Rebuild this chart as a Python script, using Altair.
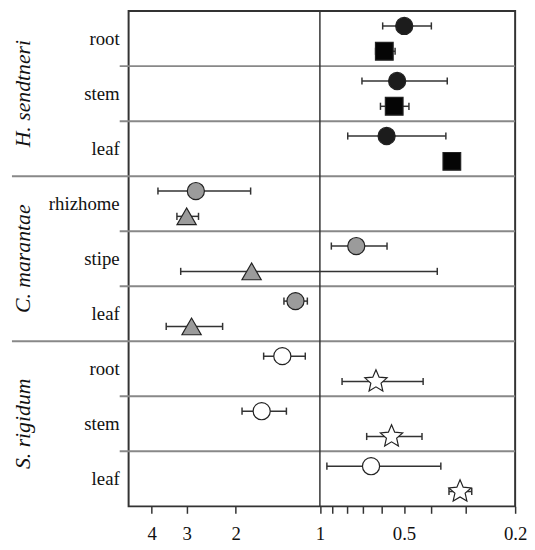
import altair as alt
import pandas as pd

# ---- data ----
groups = ["H. sendtneri", "C. marantae", "S. rigidum"]
tissues = ["root", "stem", "leaf", "rhizhome", "stipe", "leaf", "root", "stem", "leaf"]

# upper marker of each tissue row (circles)
upper_val = [0.499, 0.529, 0.577, 2.78, 0.741, 1.223, 1.363, 1.616, 0.656]
upper_lo = [0.399, 0.350, 0.354, 1.77, 0.575, 1.109, 1.128, 1.318, 0.369]
upper_hi = [0.596, 0.707, 0.795, 3.80, 0.910, 1.345, 1.590, 1.900, 0.944]

# lower marker of each tissue row (squares / triangles / stars)
lower_val = [0.588, 0.542, 0.337, 3.00, 1.756, 2.88, 0.630, 0.554, 0.315]
lower_lo = [0.538, 0.480, 0.325, 2.72, 0.380, 2.23, 0.427, 0.431, 0.286]
lower_hi = [0.632, 0.607, 0.350, 3.25, 3.150, 3.55, 0.833, 0.680, 0.345]

STAR = ("M0,-1L0.27,-0.37L0.9511,-0.309L0.4375,0.142L0.5878,0.809L0,0.46"
        "L-0.5878,0.809L-0.4375,0.142L-0.9511,-0.309L-0.27,-0.37Z")

upper_marker = ["circle"] * 9
lower_marker = ["square"] * 3 + ["triangle-up"] * 3 + [STAR] * 3
upper_fill = ["#1c1c1c"] * 3 + ["#9b9b9b"] * 3 + ["#ffffff"] * 3
lower_fill = ["#050505"] * 3 + ["#9b9b9b"] * 3 + ["#ffffff"] * 3
upper_size = [300] * 9
lower_size = [320] * 3 + [380] * 3 + [560] * 3

tick_values = [4, 3, 2, 1, 0.9, 0.8, 0.7, 0.6, 0.5, 0.4, 0.3, 0.2]
tick_labels = [4, 3, 2, 1, 0.5, 0.2]

UP, LOW, CAP = 0.27, 0.73, 0.065
W, H = 391, 501
SERIF = "Liberation Serif"

rows = []
for i in range(9):
    rows.append(dict(y=i + UP, v=upper_val[i], lo=upper_lo[i], hi=upper_hi[i],
                     marker=upper_marker[i], fill=upper_fill[i], size=upper_size[i]))
    rows.append(dict(y=i + LOW, v=lower_val[i], lo=lower_lo[i], hi=lower_hi[i],
                     marker=lower_marker[i], fill=lower_fill[i], size=lower_size[i]))
pts = pd.DataFrame(rows)
pts["y1"] = pts["y"] - CAP
pts["y2"] = pts["y"] + CAP

lab = pd.DataFrame({"tissue": tissues, "y": [i + 0.5 for i in range(9)]})
grp = pd.DataFrame({"group": groups, "y": [1.5, 4.5, 7.5]})
tline = pd.DataFrame({"y": [1, 2, 4, 5, 7, 8]})
gline = pd.DataFrame({"y": [3, 6]})

xs = alt.Scale(type="log", domain=[0.2, 4.84], reverse=True, nice=False)
ys = alt.Scale(domain=[0, 9], reverse=True, nice=False, zero=False)

xaxis = alt.Axis(orient="bottom", values=tick_values, format="~g",
                 labelExpr="indexof(" + str(tick_labels) + ", datum.value) >= 0 ? datum.label : ''",
                 title=None, grid=False, domain=False, tickSize=7, tickWidth=1.5,
                 tickColor="#333", labelFont=SERIF, labelFontSize=19, labelColor="#111",
                 labelPadding=12, labelOverlap=False, labelFlush=False)

base = alt.Chart(pts)

tl = alt.Chart(tline).mark_rule(color="#888", strokeWidth=2).encode(
    y=alt.Y("y:Q", scale=ys, axis=None), x=alt.value(-9), x2=alt.value(W))
gl = alt.Chart(gline).mark_rule(color="#888", strokeWidth=2).encode(
    y=alt.Y("y:Q", scale=ys, axis=None), x=alt.value(-118), x2=alt.value(W))
vline = alt.Chart(pd.DataFrame({"x": [1]})).mark_rule(color="#333", strokeWidth=1.5).encode(
    x=alt.X("x:Q", scale=xs, axis=xaxis))

bars = base.mark_rule(color="#333", strokeWidth=1.5).encode(
    x=alt.X("lo:Q", scale=xs, axis=xaxis), x2="hi:Q", y=alt.Y("y:Q", scale=ys, axis=None))
cap_lo = base.mark_rule(color="#333", strokeWidth=1.5).encode(
    x=alt.X("lo:Q", scale=xs, axis=xaxis), y=alt.Y("y1:Q", scale=ys, axis=None), y2="y2:Q")
cap_hi = base.mark_rule(color="#333", strokeWidth=1.5).encode(
    x=alt.X("hi:Q", scale=xs, axis=xaxis), y=alt.Y("y1:Q", scale=ys, axis=None), y2="y2:Q")
marks = base.mark_point(filled=True, stroke="#222", strokeWidth=1.2, opacity=1).encode(
    x=alt.X("v:Q", scale=xs, axis=xaxis),
    y=alt.Y("y:Q", scale=ys, axis=None),
    shape=alt.Shape("marker:N", scale=None),
    fill=alt.Fill("fill:N", scale=None),
    size=alt.Size("size:Q", scale=None),
)

tlab = alt.Chart(lab).mark_text(align="right", baseline="middle", font=SERIF,
                                fontSize=19, color="#111").encode(
    y=alt.Y("y:Q", scale=ys, axis=None), x=alt.value(-9), text="tissue:N")
glab = alt.Chart(grp).mark_text(align="center", baseline="middle", font=SERIF,
                                fontSize=22, fontStyle="italic", angle=270, color="#111").encode(
    y=alt.Y("y:Q", scale=ys, axis=None), x=alt.value(-107), text="group:N")

chart = alt.layer(tl, gl, vline, bars, cap_lo, cap_hi, marks, tlab, glab).properties(
    width=W, height=H,
    autosize=alt.AutoSizeParams(type="none"),
    padding={"left": 122, "top": 0, "right": 12, "bottom": 41},
).configure_view(stroke="#333", strokeWidth=2)

chart.save("out.html", embed_options={"renderer": "svg", "actions": False})
